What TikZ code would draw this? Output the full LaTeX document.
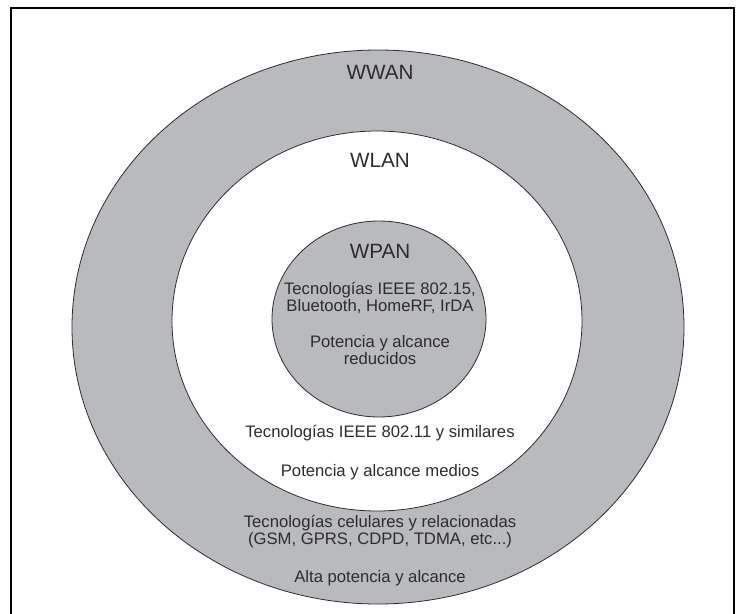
\documentclass[tikz,border=0pt]{standalone}
\usepackage{fontspec}
\setmainfont{Liberation Sans}
\usepackage{xcolor}
\usepackage{tikz}
\definecolor{ringgray}{RGB}{184,186,189}
\definecolor{inkgray}{RGB}{45,45,45}
\newcommand{\lbf}{\fontsize{15.5}{16}\selectfont}
\newcommand{\txf}{\fontsize{12.5}{12.8}\selectfont}

\begin{document}
\begin{tikzpicture}[x=0.75pt, y=-0.75pt, every node/.style={inner sep=0pt, outer sep=0pt, text=inkgray, align=center, font=\txf}]
\useasboundingbox (0,0) rectangle (743,614);
% ---- frame of the scan
\draw[black, line width=1.6pt] (11,614) -- (11,8) -- (734,8) -- (734,614);
% ---- rings
\draw[inkgray, line width=0.6pt, fill=ringgray] (378,327) ellipse [x radius=306, y radius=277];
\draw[inkgray, line width=0.6pt, fill=white] (377,321) ellipse [x radius=205, y radius=190];
\draw[inkgray, line width=0.6pt, fill=ringgray] (379,319) ellipse [x radius=107, y radius=98];
% ---- labels
\node[font=\lbf] (wwan) at (380,72.5) {WWAN};
\node[font=\lbf] (wlan) at (380,160) {WLAN};
\node[font=\lbf] (wpan) at (380,251) {WPAN};
% WPAN
\node (pantec) at (380,298) {Tecnologías IEEE 802.15,\\Bluetooth, HomeRF, IrDA};
\node (panpot) at (380,350) {Potencia y alcance\\reducidos};
% WLAN
\node (lantec) at (380,433) {Tecnologías IEEE 802.11 y similares};
\node (lanpot) at (380,472) {Potencia y alcance medios};
% WWAN
\node (wantec) at (380,532) {Tecnologías celulares y relacionadas\\(GSM, GPRS, CDPD, TDMA, etc...)};
\node (wanpot) at (380,578) {Alta potencia y alcance};
\end{tikzpicture}
\end{document}
